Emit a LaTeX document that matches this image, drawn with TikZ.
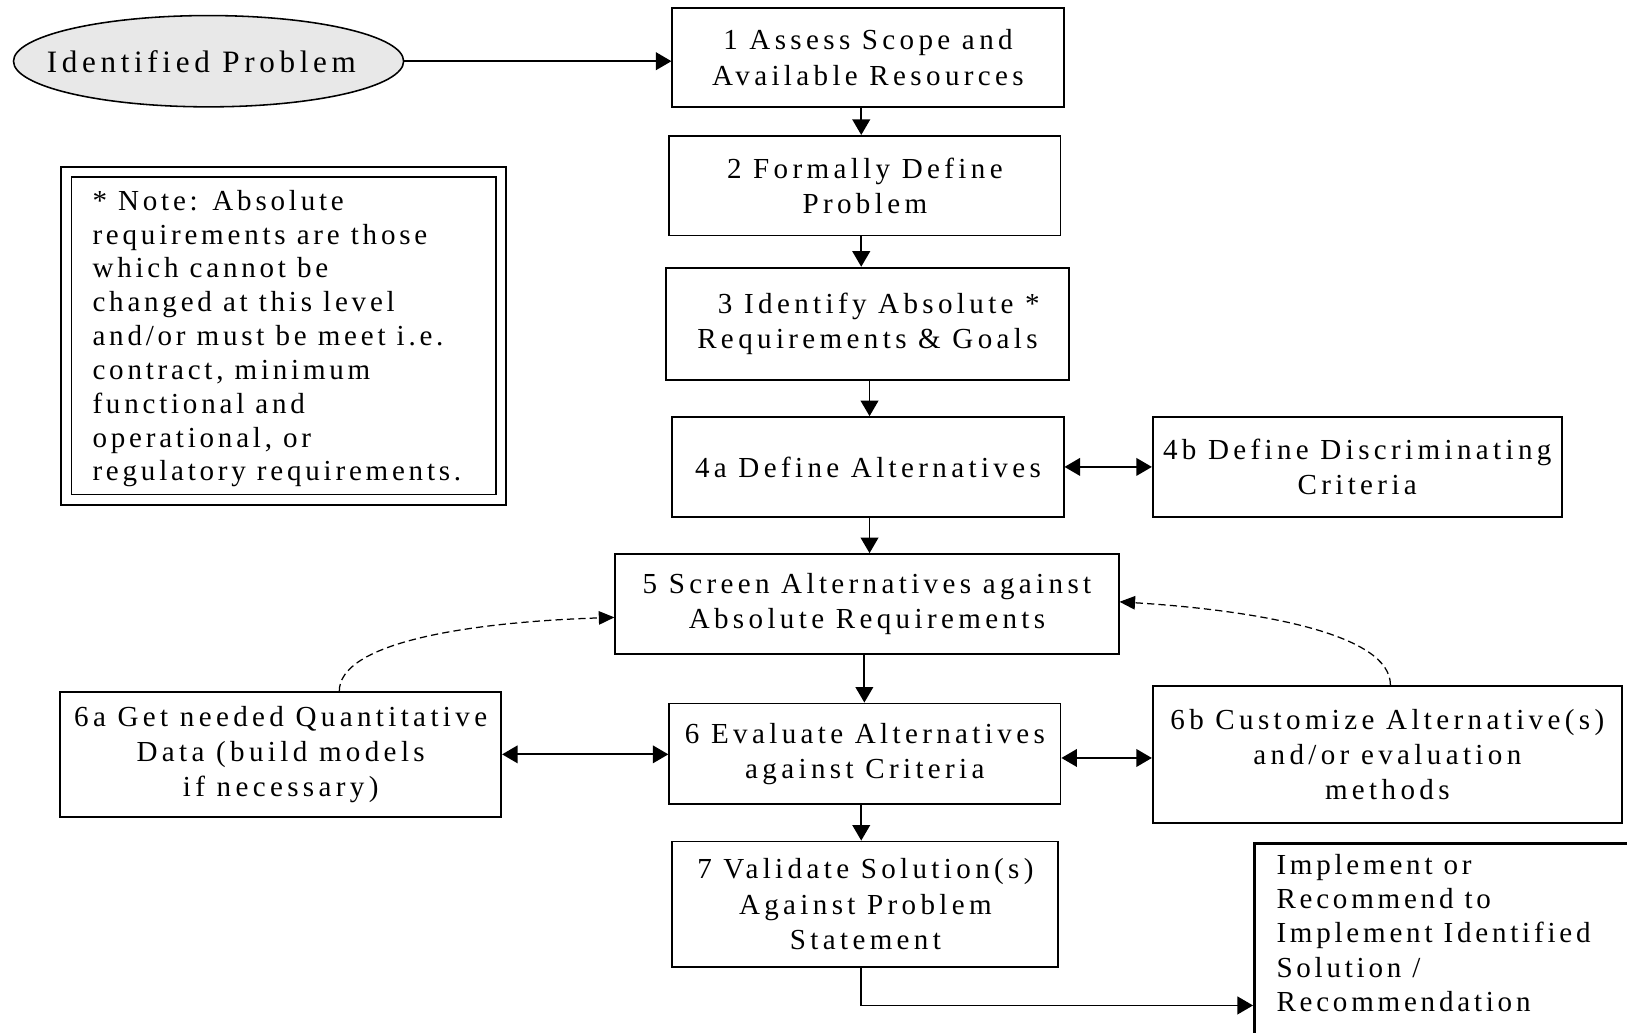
\documentclass[tikz,border=0pt]{standalone}
\usepackage{fontspec}
\setmainfont{Liberation Serif}[LetterSpace=15]
\newfontfamily\notefont{Liberation Serif}[LetterSpace=13]
\usetikzlibrary{shapes.geometric,arrows.meta,calc}
\definecolor{ellfill}{HTML}{E8E8E8}
\begin{document}
\begin{tikzpicture}[x=1pt,y=1pt,
  txt/.style={font=\fontsize{28}{34}\selectfont},
  box/.style={draw, line width=1.8pt, align=center, inner sep=0pt, txt},
  tip/.tip={Triangle[length=15pt,width=17pt]},
  arr/.style={line width=1.8pt, -{tip}},
  darr/.style={line width=1.8pt, {tip}-{tip}},
  dsh/.style={line width=1.2pt, dash pattern=on 7pt off 4pt, -{Triangle[length=15pt,width=13pt]}}]
\useasboundingbox (0,0) rectangle (1568,995);
\clip (0,0) rectangle (1568,995);

% ellipse
\node[ellipse, draw, line width=1.5pt, fill=ellfill, minimum width=376pt, minimum height=88pt, inner sep=0pt, font=\fontsize{30}{34}\selectfont] (ell) at (201,936) {\makebox[0pt]{Identified Problem\hspace*{14pt}}};

% main boxes
\node[box, minimum width=377pt, minimum height=95pt] (n1) at (836.5,939.5) {1 Assess Scope and\\Available Resources};
\node[box, minimum width=377pt, minimum height=96pt] (n2) at (833.5,816) {2 Formally Define\\Problem};
\node[box, minimum width=388pt, minimum height=108pt] (n3) at (836,683) {\hspace*{22pt}3 Identify Absolute *\\Requirements \& Goals};
\node[box, minimum width=377pt, minimum height=96pt] (n4a) at (836.5,545) {4a Define Alternatives};
\node[box, minimum width=394pt, minimum height=96pt] (n4b) at (1308,545) {4b Define Discriminating\\Criteria};
\node[box, minimum width=485pt, minimum height=96pt] (n5) at (835.5,413) {5 Screen Alternatives against\\Absolute Requirements};
\node[box, minimum width=377pt, minimum height=97pt] (n6) at (833.5,268.5) {6 Evaluate Alternatives\\against Criteria};
\node[box, minimum width=425pt, minimum height=120pt] (n6a) at (270.5,268) {6a Get needed Quantitative\\Data (build models\\if necessary)};
\node[box, minimum width=452pt, minimum height=132pt] (n6b) at (1337,268) {6b Customize Alternative(s)\\and/or evaluation\\methods};
\node[box, minimum width=372pt, minimum height=121pt] (n7) at (834,123.5) {7 Validate Solution(s)\\Against Problem\\Statement};

% implement box
\node[draw, line width=2.8pt, minimum width=371pt, minimum height=192pt, inner sep=0pt] (impl) at (1394.5,86) {};
\node[anchor=north west, inner sep=0pt, align=left, font=\notefont\fontsize{28}{33}\selectfont] (impltext) at (1230,172) {Implement or\\Recommend to\\Implement Identified\\Solution /\\Recommendation};

% note box
\node[draw, line width=1.8pt, double, double distance=8pt, minimum width=419pt, minimum height=315.5pt, inner sep=0pt] (note) at (273.5,671.25) {};
\node[anchor=north west, inner sep=0pt, align=left, font=\notefont\fontsize{28}{32.6}\selectfont] (notetext) at (89,812) {* Note: Absolute\\requirements are those\\which cannot be\\changed at this level\\and/or must be meet i.e.\\contract, minimum\\functional and\\operational, or\\regulatory requirements.};

% connectors
\draw[arr] (ell.east) -- (ell.east -| n1.west);
\draw[arr] ([xshift=-6.5pt]n1.south) -- ([xshift=-6.5pt]n1.south |- n2.north);
\draw[arr] ([xshift=-3.5pt]n2.south) -- ([xshift=-3.5pt]n2.south |- n3.north);
\draw[arr] ([xshift=2pt]n3.south) -- ([xshift=2pt]n3.south |- n4a.north);
\draw[darr] (n4a.east) -- (n4b.west);
\draw[arr] ([xshift=1.5pt]n4a.south) -- ([xshift=1.5pt]n4a.south |- n5.north);
\draw[arr] ([xshift=-2.5pt]n5.south) -- ([xshift=-2.5pt]n5.south |- n6.north);
\draw[darr] (n6a.east) -- (n6a.east -| n6.west);
\draw[darr] ([yshift=-4pt]n6.east) -- ([yshift=-4pt]n6.east -| n6b.west);
\draw[arr] ([xshift=-3.5pt]n6.south) -- ([xshift=-3.5pt]n6.south |- n7.north);
\draw[arr] ([xshift=-4pt]n7.south) |- ([yshift=-60pt]impl.west);

\draw[dsh] ([xshift=56.5pt]n6a.north) .. controls +(0,45) and +(-150,-5) .. ([yshift=-13pt]n5.west);
\draw[dsh] ([xshift=3pt]n6b.north) .. controls +(0,50) and +(130,-8) .. ([yshift=2pt]n5.east);
\end{tikzpicture}
\end{document}
